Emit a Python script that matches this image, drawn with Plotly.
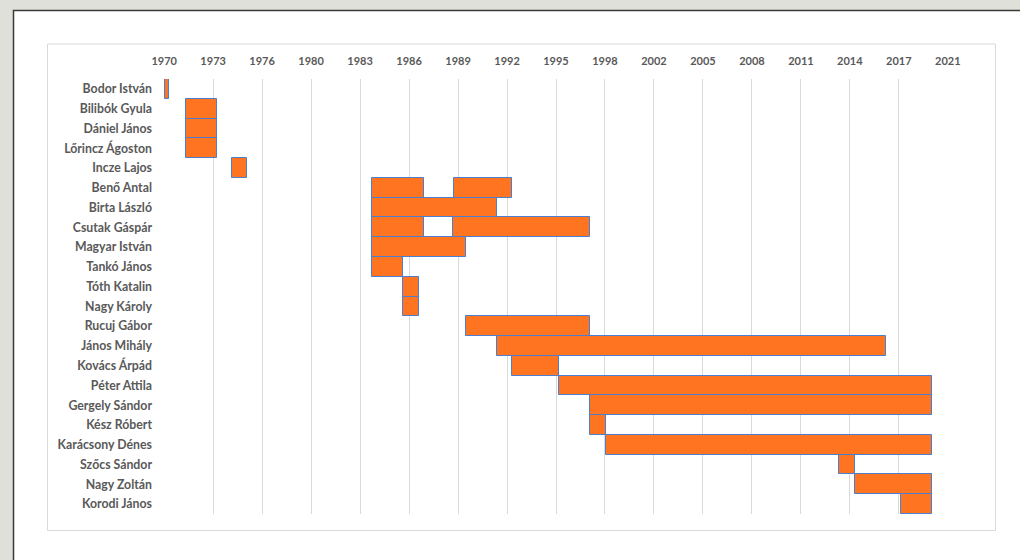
import plotly.graph_objects as go

# ---- data ----
names = ["Bodor István", "Bilibók Gyula", "Dániel János", "Lőrincz Ágoston",
         "Incze Lajos", "Benő Antal", "Birta László", "Csutak Gáspár",
         "Magyar István", "Tankó János", "Tóth Katalin", "Nagy Károly",
         "Rucuj Gábor", "János Mihály", "Kovács Árpád", "Péter Attila",
         "Gergely Sándor", "Kész Róbert", "Karácsony Dénes", "Szőcs Sándor",
         "Nagy Zoltán", "Korodi János"]
start1 = [1970.66, 1972, 1972, 1972, 1975, 1984, 1984, 1984, 1984, 1984, 1986,
          1986, 1990, 1992, 1993, 1996, 1998, 1998, 1999, 2014, 2015, 2018]
end1 = [1970.96, 1974, 1974, 1974, 1975.93, 1987.3, 1992, 1987.3, 1990, 1986,
        1987, 1987, 1998, 2017, 1996, 2020, 2020, 1999, 2020, 2015, 2020, 2020]

names2 = ["Benő Antal", "Csutak Gáspár"]
start2 = [1989.27, 1989.2]
end2 = [1993, 1998]

tick_labels = ["1970", "1973", "1976", "1980", "1983", "1986", "1989", "1992",
               "1995", "1998", "2002", "2005", "2008", "2011", "2014", "2017",
               "2021"]
axis_min = 1970.62
axis_max = 2021.0

# ---- layout geometry ----
W, H = 1020, 560
ML, MR, MT, MB = 164, 72, 79, 46
PW, PH = W - ML - MR, H - MT - MB

def px_x(p):
    return (p - ML) / PW

def px_y(p):
    return (H - MB - p) / PH

step = (axis_max - axis_min) / (len(tick_labels) - 1)
tickvals = [axis_min + i * step for i in range(len(tick_labels))]

FILL = "#FF7420"
EDGE = "#4A7FD0"
TXT = "#595959"
XFONT = dict(family="Lato", size=11, color=TXT, weight="bold")
YFONT = dict(family="Lato", size=12.3, color=TXT, weight="bold")

fig = go.Figure()
fig.add_trace(go.Bar(
    y=names, x=[e - s for s, e in zip(start1, end1)], base=start1,
    orientation="h", marker=dict(color=FILL, line=dict(color=EDGE, width=1)),
    hoverinfo="skip", showlegend=False))
fig.add_trace(go.Bar(
    y=names2, x=[e - s for s, e in zip(start2, end2)], base=start2,
    orientation="h", marker=dict(color=FILL, line=dict(color=EDGE, width=1)),
    hoverinfo="skip", showlegend=False))

shapes = [
    # outer white panel with dark border
    dict(type="rect", xref="paper", yref="paper", layer="below",
         x0=px_x(13.5), x1=px_x(1040), y0=px_y(580), y1=px_y(10.5),
         fillcolor="white", line=dict(color="#3A3A3A", width=1.5)),
    # chart area border
    dict(type="rect", xref="paper", yref="paper", layer="below",
         x0=px_x(47.5), x1=px_x(995.5), y0=px_y(530.5), y1=px_y(44),
         fillcolor="white", line=dict(color="#D9D9D9", width=1)),
]

fig.update_layout(
    width=W, height=H,
    margin=dict(l=ML, r=MR, t=MT, b=MB),
    paper_bgcolor="#E0E0DA", plot_bgcolor="rgba(0,0,0,0)",
    barmode="overlay", bargap=0,
    shapes=shapes,
    xaxis=dict(side="top", range=[axis_min - 0.01, axis_max + 0.01],
               tickmode="array", tickvals=tickvals, ticktext=tick_labels,
               showgrid=True, gridcolor="#D9D9D9", gridwidth=1,
               zeroline=False, showline=False, ticks="",
               tickfont=XFONT, ticklabelstandoff=11, fixedrange=True),
    yaxis=dict(categoryorder="array", categoryarray=names,
               autorange="reversed", showgrid=False, zeroline=False,
               showline=False, ticks="", tickfont=YFONT,
               ticklabelstandoff=11, fixedrange=True),
)

fig.write_html("out.html")
